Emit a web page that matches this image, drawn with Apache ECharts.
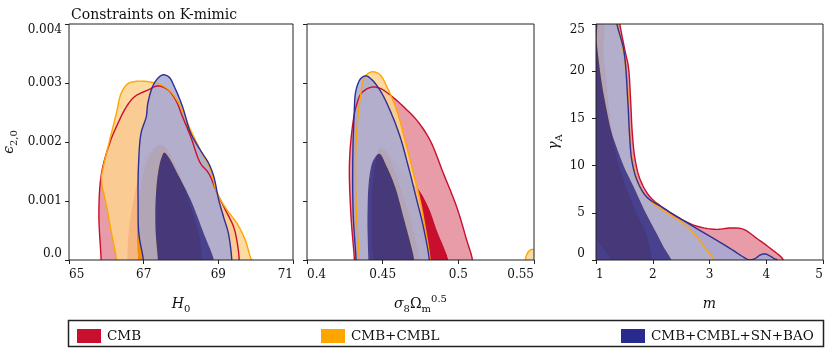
<!DOCTYPE html>
<html>
<head>
<meta charset="utf-8">
<script src="https://cdn.jsdelivr.net/npm/echarts@6/dist/echarts.min.js"></script>
<style>
  html, body { margin: 0; padding: 0; background: #fff; }
  #chart { width: 831px; height: 348px; }
</style>
</head>
<body>
<div id="chart"></div>
<script>
const chart = echarts.init(document.getElementById('chart'));
const FONT = 'DejaVu Serif';

// panel 1: H0 vs eps_{2,0}  (eps in units of 1e-3)
const h0CmbOuter = [[65.86,-0.2],[65.86,0],[65.80,0.79],[65.87,1.47],[66.09,1.98],[66.27,2.26],[66.54,2.60],[66.76,2.77],[67.11,2.88],[67.38,2.95],[67.64,2.89],[67.86,2.71],[68.04,2.43],[68.26,2.09],[68.52,1.64],[68.74,1.47],[68.97,1.13],[69.19,0.85],[69.41,0.56],[69.51,0.28],[69.56,0],[69.56,-0.2]];
const h0CmbInner = [[66.56,-0.1],[66.56,0],[66.60,0.5],[66.72,1.0],[66.90,1.5],[67.10,1.8],[67.40,1.95],[67.60,1.88],[67.85,1.6],[68.10,1.2],[68.35,0.7],[68.50,0.35],[68.55,0],[68.55,-0.1]];
const h0CmblOuter = [[66.27,-0.2],[66.27,0],[66.14,0.45],[66.01,0.90],[65.87,1.36],[65.92,1.58],[66.09,2.03],[66.27,2.49],[66.40,2.83],[66.58,2.99],[66.85,3.03],[67.15,3.02],[67.46,2.97],[67.73,2.85],[67.99,2.60],[68.26,2.20],[68.52,1.86],[68.79,1.53],[68.97,1.13],[69.23,0.85],[69.50,0.62],[69.72,0.34],[69.87,0.03],[69.90,0],[69.90,-0.2]];
const h0CmblInner = [[66.85,-0.1],[66.85,0],[66.84,0.5],[66.88,1.0],[67.00,1.45],[67.20,1.8],[67.46,1.95],[67.65,1.85],[67.85,1.6],[67.99,1.41],[68.26,0.9],[68.48,0.45],[68.57,0],[68.57,-0.1]];
const h0AllOuter = [[66.99,-0.2],[66.99,0],[66.87,0.45],[66.85,1.02],[66.86,1.58],[66.93,2.15],[67.07,2.43],[67.11,2.65],[67.24,2.94],[67.38,3.08],[67.52,3.14],[67.68,3.10],[67.82,2.94],[68.04,2.60],[68.26,2.15],[68.52,1.86],[68.74,1.64],[68.88,1.41],[69.01,1.02],[69.14,0.73],[69.27,0.45],[69.36,0],[69.36,-0.2]];
const h0AllInner = [[67.38,-0.1],[67.38,0],[67.32,0.5],[67.32,1.0],[67.38,1.45],[67.47,1.72],[67.55,1.82],[67.66,1.75],[67.90,1.47],[68.26,1.02],[68.61,0.45],[68.88,0],[68.88,-0.1]];

// panel 2: sigma8 Omega_m^0.5 vs eps_{2,0}
const s8CmbOuter = [[0.4313,-0.2],[0.4313,0],[0.4291,0.73],[0.4280,1.58],[0.4295,2.15],[0.4324,2.60],[0.4361,2.83],[0.4427,2.93],[0.4482,2.91],[0.4548,2.80],[0.4637,2.60],[0.4725,2.37],[0.4813,2.03],[0.4901,1.47],[0.4989,0.90],[0.5055,0.34],[0.5093,0],[0.5093,-0.2]];
const s8CmbInner = [[0.4415,-0.1],[0.4415,0],[0.4410,0.6],[0.4420,1.2],[0.4445,1.65],[0.4482,1.93],[0.4530,1.85],[0.4600,1.6],[0.4680,1.35],[0.4747,1.16],[0.4810,0.85],[0.4857,0.51],[0.4934,0],[0.4934,-0.1]];
const s8CmblOuter = [[0.4346,-0.2],[0.4346,0],[0.4328,0.73],[0.4321,1.58],[0.4328,2.15],[0.4350,2.71],[0.4383,3.11],[0.4432,3.19],[0.4482,3.14],[0.4527,2.94],[0.4593,2.54],[0.4648,2.03],[0.4703,1.47],[0.4747,1.02],[0.4780,0.56],[0.4813,0],[0.4813,-0.2]];
const s8CmblInner = [[0.4437,-0.1],[0.4437,0],[0.4430,0.6],[0.4435,1.2],[0.4455,1.65],[0.4482,1.88],[0.4520,1.82],[0.4570,1.55],[0.4630,1.1],[0.4690,0.6],[0.4740,0],[0.4740,-0.1]];
const s8CmblBlob = [[0.5443,-0.2],[0.5443,0],[0.5452,0.09],[0.5470,0.16],[0.5490,0.18],[0.5520,0.16],[0.5540,0],[0.5540,-0.2]];
const s8AllOuter = [[0.4324,-0.2],[0.4324,0],[0.4306,0.73],[0.4302,1.58],[0.4311,2.43],[0.4324,2.88],[0.4357,3.08],[0.4390,3.12],[0.4427,3.06],[0.4482,2.88],[0.4548,2.54],[0.4615,2.09],[0.4670,1.58],[0.4725,1.02],[0.4769,0.56],[0.4808,0],[0.4808,-0.2]];
const s8AllInner = [[0.4405,-0.1],[0.4405,0],[0.4399,0.73],[0.4412,1.41],[0.4438,1.69],[0.4478,1.80],[0.4527,1.58],[0.4582,1.24],[0.4637,0.73],[0.4708,0],[0.4708,-0.1]];

// panel 3: m vs gamma_A
const mCmbOuter = [[0.8,26],[1.40,26],[1.42,25],[1.51,22.2],[1.57,20.5],[1.61,16.9],[1.64,13.4],[1.69,10.6],[1.78,8.5],[1.95,6.7],[2.19,5.5],[2.48,4.4],[2.77,3.6],[3.10,3.25],[3.40,3.4],[3.60,3.25],[3.83,2.3],[4.07,1.24],[4.30,0],[4.32,-1],[0.8,-1]];
const mCmbInner = [[0.85,25.5],[1.12,25.5],[1.14,22],[1.19,19],[1.24,16],[1.30,13.5],[1.36,11.5],[1.45,9.5],[1.58,7.2],[1.69,5.6],[1.81,4.0],[1.92,2.5],[2.00,0],[2.02,-0.5],[0.85,-0.5]];
const mCmblOuter = [[0.8,26],[1.37,26],[1.38,25],[1.48,22.2],[1.55,18.7],[1.58,15.2],[1.61,11.7],[1.69,9.2],[1.80,7.4],[2.01,6.0],[2.30,4.8],[2.54,3.9],[2.77,2.5],[2.95,1.06],[3.08,0],[3.10,-1],[0.8,-1]];
const mCmblInner = [[0.85,25.5],[1.10,25.5],[1.12,22],[1.17,19],[1.22,16],[1.27,13.6],[1.33,11.5],[1.42,9.5],[1.55,7.2],[1.66,5.6],[1.78,4.0],[1.89,2.5],[1.98,0],[2.00,-0.5],[1.32,-0.5],[1.28,0],[1.00,2.3],[0.85,3.5]];
const mAllOuter = [[0.8,26],[1.36,26],[1.37,25],[1.49,22.2],[1.56,16.9],[1.59,13.4],[1.63,10.6],[1.72,8.5],[1.89,6.7],[2.19,5.5],[2.48,4.4],[2.77,3.35],[3.07,2.3],[3.36,1.24],[3.60,0.3],[3.70,0.02],[3.80,0.15],[3.90,0.55],[3.98,0.64],[4.06,0.45],[4.14,0.15],[4.19,0],[4.20,-1],[0.8,-1]];
const mAllInner = [[0.85,25.5],[1.00,25.5],[1.01,23.3],[1.06,20.5],[1.11,18.4],[1.19,15.8],[1.27,13.6],[1.36,12.0],[1.50,9.8],[1.66,7.8],[1.86,5.2],[2.07,2.8],[2.20,1.3],[2.33,0],[2.35,-0.5],[0.85,-0.5]];

const datasets = [
  { name: 'CMB', light: '#e89ca8', dark: '#c8102e', line: '#c8102e', alpha: 1 },
  { name: 'CMB+CMBL', light: '#fdd48f', dark: '#ffa500', line: '#ffa500', alpha: 0.85 },
  { name: 'CMB+CMBL+SN+BAO', light: '#a6a9d5', dark: '#282a8d', line: '#2e3192', alpha: 0.85 }
];

function signedArea(pts) {
  let a = 0;
  for (let i = 0; i < pts.length; i++) {
    const p = pts[i], q = pts[(i + 1) % pts.length];
    a += p[0] * q[1] - q[0] * p[1];
  }
  return a / 2;
}
function startLowest(pts) {
  let k = 0;
  pts.forEach((p, i) => { if (p[1] > pts[k][1]) k = i; });
  return pts.slice(k).concat(pts.slice(0, k));
}
// centripetal catmull-rom through the projected contour points (closed ring)
function smoothRing(pts, n) {
  const out = [], N = pts.length;
  const d = (a, b) => Math.max(Math.sqrt(Math.hypot(b[0] - a[0], b[1] - a[1])), 1e-4);
  for (let i = 0; i < N; i++) {
    const p0 = pts[(i - 1 + N) % N], p1 = pts[i], p2 = pts[(i + 1) % N], p3 = pts[(i + 2) % N];
    const t0 = 0, t1 = t0 + d(p0, p1), t2 = t1 + d(p1, p2), t3 = t2 + d(p2, p3);
    for (let k = 0; k < n; k++) {
      const t = t1 + (t2 - t1) * k / n;
      const lerp = (a, b, ta, tb) => {
        const w = (t - ta) / (tb - ta);
        return [a[0] + (b[0] - a[0]) * w, a[1] + (b[1] - a[1]) * w];
      };
      const A1 = lerp(p0, p1, t0, t1), A2 = lerp(p1, p2, t1, t2), A3 = lerp(p2, p3, t2, t3);
      const B1 = lerp(A1, A2, t0, t2), B2 = lerp(A2, A3, t1, t3);
      out.push(lerp(B1, B2, t1, t2));
    }
  }
  return out;
}

function contour(gi, order, outer, inner) {
  const ds = datasets[order];
  const data = outer.map(p => [p[0], p[1], 0]).concat(inner.map(p => [p[0], p[1], 1]));
  return {
    type: 'custom',
    name: ds.name,
    xAxisIndex: gi,
    yAxisIndex: gi,
    clip: true,
    silent: true,
    itemStyle: { color: ds.dark },
    data,
    renderItem: function (params, api) {
      if (params.context.rendered) return;
      params.context.rendered = true;
      let o = [], ins = [];
      data.forEach(d => (d[2] ? ins : o).push(api.coord([d[0], d[1]])));
      o = smoothRing(o, 10);
      const children = [];
      let band = o;
      if (ins.length) {
        ins = smoothRing(ins, 10);
        const oc = startLowest(signedArea(o) > 0 ? o : o.slice().reverse());
        const ic = startLowest(signedArea(ins) > 0 ? ins.slice().reverse() : ins.slice());
        band = oc.concat([oc[0]], ic, [ic[0]]);
        children.push({ type: 'polygon', shape: { points: ic }, z2: order * 2 + 1,
          style: { fill: ds.dark, opacity: ds.alpha } });
      }
      children.push({ type: 'polygon', shape: { points: band }, z2: order * 2,
        style: { fill: ds.light, opacity: ds.alpha } });
      children.push({ type: 'polygon', shape: { points: o }, z2: 20 + order,
        style: { fill: 'none', stroke: ds.line, lineWidth: 1.4 } });
      return { type: 'group', children };
    }
  };
}

const grids = [
  { left: 67, top: 24, width: 226, height: 236 },
  { left: 307, top: 24, width: 227, height: 236 },
  { left: 596, top: 24, width: 227, height: 236 }
].map(g => Object.assign(g, { show: true, borderColor: '#222', borderWidth: 1, backgroundColor: 'transparent', z: 10 }));

const rich = {
  i: { fontFamily: FONT, fontStyle: 'italic', fontSize: 14, lineHeight: 20, color: '#111' },
  n: { fontFamily: FONT, fontSize: 14, lineHeight: 20, color: '#111' },
  s: { fontFamily: FONT, fontSize: 10, lineHeight: 20, verticalAlign: 'bottom', padding: [8, 0, 0, 0], color: '#111' },
  p: { fontFamily: FONT, fontSize: 10, lineHeight: 20, verticalAlign: 'top', padding: [0, 0, 10, 0], color: '#111' }
};

function xAx(gi, min, max, interval, name) {
  return {
    gridIndex: gi, type: 'value', min, max, interval, z: 10,
    name, nameLocation: 'middle', nameGap: 34, nameTextStyle: { rich },
    axisLine: { show: false },
    axisTick: { show: true, length: 4, lineStyle: { color: '#222' } },
    splitLine: { show: false },
    axisLabel: { fontFamily: FONT, fontSize: 12, color: '#111', margin: 9,
      alignMinLabel: 'left', alignMaxLabel: 'right' }
  };
}
function yAx(gi, min, max, interval, name, opts) {
  return Object.assign({
    gridIndex: gi, type: 'value', min, max, interval, z: 10,
    name, nameLocation: 'middle', nameRotate: 90, nameGap: 46, nameTextStyle: { rich },
    axisLine: { show: false },
    axisTick: { show: true, length: 4, lineStyle: { color: '#222' } },
    splitLine: { show: false },
    axisLabel: { fontFamily: FONT, fontSize: 12, color: '#111', margin: 7,
      verticalAlignMinLabel: 'bottom', verticalAlignMaxLabel: 'top' }
  }, opts || {});
}

const epsLabel = v => v === 0 ? '0.0' : (v / 1000).toFixed(3);

const series = [
  contour(0, 0, h0CmbOuter, h0CmbInner),
  contour(0, 1, h0CmblOuter, h0CmblInner),
  contour(0, 2, h0AllOuter, h0AllInner),
  contour(1, 0, s8CmbOuter, s8CmbInner),
  contour(1, 1, s8CmblOuter, s8CmblInner),
  contour(1, 1, s8CmblBlob, []),
  contour(1, 2, s8AllOuter, s8AllInner),
  contour(2, 0, mCmbOuter, mCmbInner),
  contour(2, 1, mCmblOuter, mCmblInner),
  contour(2, 2, mAllOuter, mAllInner)
];

const legendBase = {
  top: 324, itemWidth: 24, itemHeight: 14, icon: 'rect', selectedMode: false, itemGap: 0,
  textStyle: { fontFamily: FONT, fontSize: 13.5, color: '#111', padding: [0, 0, 0, 1] }
};

chart.setOption({
  animation: false,
  title: {
    text: 'Constraints on K-mimic', left: 66, top: 3,
    textStyle: { fontFamily: FONT, fontSize: 14, fontWeight: 'normal', color: '#111' }
  },
  grid: grids,
  xAxis: [
    xAx(0, 65, 71, 2, '{i|H}{s|0}'),
    xAx(1, 0.4, 0.55, 0.05, '{i|σ}{s|8}{n|Ω}{s|m}{p|0.5}'),
    xAx(2, 1, 5, 1, '{i|m}')
  ],
  yAxis: [
    yAx(0, 0, 4, 1, '{i|ϵ}{s|2,0}', { axisLabel: Object.assign(yAx().axisLabel, { formatter: epsLabel }), nameGap: 50 }),
    yAx(1, 0, 4, 1, '', { axisLabel: { show: false } }),
    yAx(2, 0, 25, 5, '{i|γ}{s|A}', { nameGap: 32, axisLabel: Object.assign(yAx().axisLabel, { margin: 11 }) })
  ],
  legend: [
    Object.assign({ left: 72, data: ['CMB'] }, legendBase),
    Object.assign({ left: 316, data: ['CMB+CMBL'] }, legendBase),
    Object.assign({ left: 616, data: ['CMB+CMBL+SN+BAO'] }, legendBase)
  ],
  graphic: [{
    type: 'rect', left: 66, top: 318, silent: true,
    shape: { width: 755, height: 26 },
    style: { fill: 'none', stroke: '#222', lineWidth: 1.5 }
  }],
  series
});
</script>
</body>
</html>
